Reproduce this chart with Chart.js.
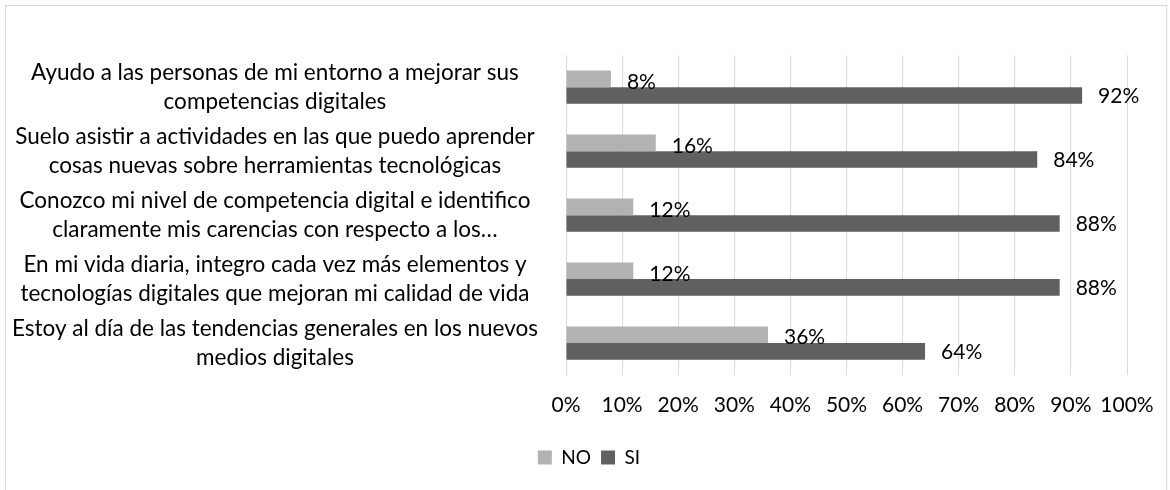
<!DOCTYPE html>
<html>
<head>
<meta charset="utf-8">
<script src="https://cdn.jsdelivr.net/npm/chart.js@4.4.1/dist/chart.umd.min.js"></script>
<style>
  body { margin: 0; background: #fff; }
  #box { position: absolute; left: 5px; top: 5px; width: 1160px; height: 484px; border: 1px solid #d9d9d9; }
</style>
</head>
<body>
<div id="box"><canvas id="my-chart"></canvas></div>
<script>
  const categories = [
    ["Ayudo a las personas de mi entorno a mejorar sus", "competencias digitales"],
    ["Suelo asistir a actividades en las que puedo aprender", "cosas nuevas sobre herramientas tecnológicas"],
    ["Conozco mi nivel de competencia digital e identifico", "claramente mis carencias con respecto a los…"],
    ["En mi vida diaria, integro cada vez más elementos y", "tecnologías digitales que mejoran mi calidad de vida"],
    ["Estoy al día de las tendencias generales en los nuevos", "medios digitales"]
  ];
  const noValues = [8, 16, 12, 12, 36];
  const siValues = [92, 84, 88, 88, 64];
  const xTicks = [0, 10, 20, 30, 40, 50, 60, 70, 80, 90, 100];

  const fontFamily = "Lato, 'Liberation Sans', sans-serif";

  // labels at the end of each bar
  const barLabels = {
    id: "barLabels",
    afterDatasetsDraw(chart) {
      const ctx = chart.ctx;
      ctx.save();
      ctx.font = "21px " + fontFamily;
      ctx.fillStyle = "#000";
      ctx.textAlign = "left";
      ctx.textBaseline = "middle";
      chart.data.datasets.forEach((ds, i) => {
        const dy = i === 0 ? 3 : 1;
        chart.getDatasetMeta(i).data.forEach((bar, j) => {
          ctx.fillText(ds.data[j] + "%", bar.x + 16, bar.y + dy);
        });
      });
      ctx.restore();
    }
  };

  const mychart = document.getElementById("my-chart");

  new Chart(mychart, {
    type: "bar",
    data: {
      labels: categories,
      datasets: [
        { label: "NO", data: noValues, backgroundColor: "#b2b2b2", categoryPercentage: 0.52, barPercentage: 1 },
        { label: "SI", data: siValues, backgroundColor: "#606060", categoryPercentage: 0.52, barPercentage: 1 }
      ]
    },
    options: {
      indexAxis: "y",
      responsive: true,
      maintainAspectRatio: false,
      animation: false,
      layout: { padding: { top: 31, right: 0, left: 6, bottom: 13 } },
      scales: {
        x: {
          min: 0,
          max: 100,
          afterBuildTicks: (scale) => { scale.ticks = xTicks.map(v => ({ value: v })); },
          afterFit: (scale) => {
            scale.height = 63;
            scale.paddingLeft = 0;
            scale.paddingRight = 39;
          },
          grid: { color: "#d9d9d9", drawTicks: false },
          border: { display: false },
          ticks: {
            padding: 18,
            maxRotation: 0,
            color: "#000",
            font: { family: fontFamily, size: 21 },
            callback: (v) => v + "%"
          }
        },
        y: {
          afterFit: (scale) => { scale.width = 554; },
          grid: { display: false },
          border: { color: "#d9d9d9" },
          ticks: {
            autoSkip: false,
            crossAlign: "center",
            padding: 20,
            color: "#000",
            font: { family: fontFamily, size: 22.5, lineHeight: 1.3 }
          }
        }
      },
      plugins: {
        legend: {
          position: "bottom",
          labels: {
            boxWidth: 14,
            boxHeight: 14,
            padding: 10,
            color: "#000",
            font: { family: fontFamily, size: 19 }
          }
        },
        tooltip: { enabled: false }
      }
    },
    plugins: [barLabels]
  });
</script>
</body>
</html>
